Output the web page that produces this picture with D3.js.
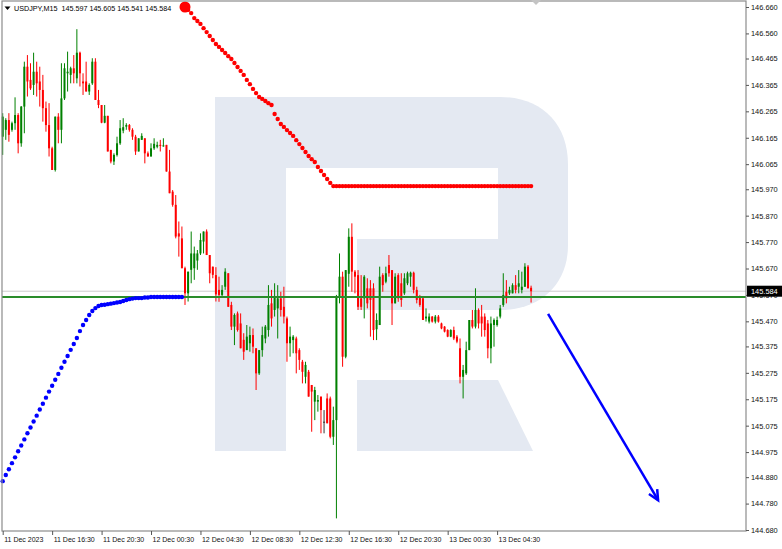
<!DOCTYPE html>
<html><head><meta charset="utf-8">
<script src="https://cdn.jsdelivr.net/npm/d3@7"></script>
<style>html,body{margin:0;padding:0;background:#fff;overflow:hidden}svg{display:block}</style>
</head><body><svg id="c" width="782" height="549"></svg>
<script>
// ---------------- DATA ----------------
const symbolTitle = "USDJPY,M15";
const headerValues = ["145.597", "145.605", "145.541", "145.584"];

const open = [
146.169,146.195,146.232,146.195,146.220,146.251,146.144,146.283,146.434,146.384,
146.365,146.415,146.378,146.346,146.277,146.213,146.125,146.043,146.245,146.195,
146.314,146.409,146.403,146.428,146.390,146.487,146.378,146.378,146.340,146.371,
146.453,146.308,146.289,146.222,146.248,146.119,146.075,146.100,146.144,146.192,
146.207,146.213,146.195,146.169,146.113,146.157,146.163,146.106,146.094,146.125,
146.131,146.138,146.134,146.138,146.037,145.961,145.911,145.803,145.784,145.671,
145.576,145.665,145.671,145.700,145.727,145.772,145.810,145.721,145.677,145.645,
145.589,145.570,145.601,145.652,145.532,145.450,145.500,145.462,145.400,145.361,
145.387,145.418,145.368,145.273,145.361,145.405,145.437,145.538,145.513,145.519,
145.557,145.525,145.481,145.387,145.399,145.405,145.361,145.317,145.260,145.279,
145.229,145.166,145.166,145.185,145.090,145.178,145.178,145.033,145.096,145.563,
145.639,145.336,145.650,145.790,145.658,145.645,145.557,145.557,145.595,145.595,
145.595,145.440,145.456,145.645,145.620,145.683,145.664,145.538,145.645,145.614,
145.576,145.614,145.639,145.654,145.589,145.563,145.557,145.481,145.469,145.488,
145.469,145.488,145.462,145.450,145.437,145.412,145.437,145.412,145.368,145.260,
145.273,145.361,145.475,145.450,145.513,145.488,145.488,145.462,145.368,145.456,
145.456,145.488,145.532,145.582,145.576,145.576,145.607,145.601,145.589,145.601,
145.677,145.597];
const high = [
146.258,146.239,146.258,146.226,146.318,146.258,146.285,146.453,146.478,146.447,
146.487,146.453,146.434,146.403,146.302,146.296,146.131,146.245,146.258,146.447,
146.447,146.491,146.434,146.478,146.576,146.491,146.409,146.453,146.371,146.466,
146.466,146.346,146.289,146.289,146.248,146.119,146.106,146.169,146.232,146.239,
146.220,146.217,146.201,146.176,146.163,146.182,146.163,146.113,146.144,146.163,
146.150,146.157,146.163,146.138,146.119,145.967,145.948,145.848,145.829,145.677,
145.658,145.810,145.753,145.740,145.803,145.810,145.818,145.721,145.677,145.675,
145.639,145.607,145.671,145.652,145.544,145.500,145.507,145.500,145.425,145.456,
145.450,145.443,145.368,145.361,145.450,145.456,145.607,145.589,145.614,145.607,
145.582,145.601,145.488,145.450,145.418,145.412,145.368,145.324,145.317,145.286,
145.229,145.222,145.191,145.185,145.134,145.197,145.185,145.147,145.570,145.727,
145.658,145.664,145.822,145.841,145.664,145.664,145.645,145.645,145.633,145.626,
145.614,145.500,145.677,145.652,145.677,145.721,145.664,145.652,145.652,145.652,
145.652,145.658,145.658,145.658,145.601,145.570,145.563,145.519,145.500,145.490,
145.494,145.494,145.465,145.452,145.440,145.440,145.450,145.418,145.405,145.305,
145.393,145.475,145.513,145.595,145.519,145.532,145.500,145.475,145.488,145.481,
145.488,145.532,145.652,145.626,145.601,145.614,145.645,145.664,145.658,145.690,
145.683,145.605];
const low = [
146.100,146.157,146.150,146.188,146.195,146.106,146.131,146.182,146.321,146.346,
146.327,146.321,146.283,146.226,146.188,146.094,146.043,146.037,146.144,146.144,
146.308,146.340,146.371,146.371,146.371,146.359,146.327,146.340,146.327,146.365,
146.308,146.277,146.220,146.220,146.113,146.068,146.062,146.094,146.138,146.182,
146.195,146.188,146.157,146.100,146.113,146.157,146.068,146.094,146.094,146.119,
146.125,146.113,146.131,146.037,145.955,145.904,145.784,145.715,145.671,145.532,
145.545,145.614,145.627,145.665,145.721,145.727,145.721,145.614,145.633,145.545,
145.544,145.563,145.589,145.525,145.437,145.380,145.431,145.368,145.324,145.361,
145.355,145.349,145.210,145.267,145.336,145.387,145.412,145.450,145.488,145.405,
145.488,145.462,145.317,145.336,145.349,145.273,145.286,145.235,145.235,145.185,
145.052,145.096,145.128,145.046,145.046,145.084,145.027,145.002,144.724,145.538,
145.298,145.330,145.601,145.582,145.576,145.513,145.513,145.481,145.519,145.412,
145.399,145.399,145.456,145.582,145.614,145.639,145.456,145.538,145.544,145.525,
145.570,145.607,145.601,145.576,145.538,145.525,145.475,145.469,145.462,145.465,
145.462,145.465,145.440,145.428,145.410,145.410,145.399,145.387,145.235,145.178,
145.267,145.361,145.443,145.443,145.443,145.412,145.412,145.330,145.311,145.374,
145.450,145.481,145.525,145.538,145.570,145.576,145.576,145.576,145.576,145.601,
145.595,145.541];
const close = [
146.245,146.232,146.176,146.220,146.251,146.144,146.283,146.434,146.378,146.352,
146.415,146.371,146.346,146.277,146.213,146.125,146.043,146.245,146.195,146.314,
146.428,146.415,146.428,146.409,146.487,146.409,146.371,146.340,146.365,146.453,
146.308,146.289,146.222,146.248,146.113,146.075,146.100,146.144,146.201,146.205,
146.213,146.195,146.169,146.113,146.163,146.172,146.106,146.094,146.125,146.142,
146.138,146.134,146.136,146.037,145.955,145.911,145.791,145.791,145.671,145.576,
145.658,145.727,145.727,145.727,145.778,145.810,145.721,145.652,145.646,145.572,
145.570,145.589,145.658,145.525,145.450,145.494,145.437,145.368,145.355,145.412,
145.418,145.374,145.273,145.361,145.418,145.450,145.532,145.481,145.563,145.557,
145.513,145.488,145.387,145.412,145.412,145.349,145.324,145.279,145.305,145.185,
145.204,145.210,145.172,145.134,145.090,145.084,145.033,145.096,145.563,145.639,
145.336,145.664,145.790,145.658,145.639,145.525,145.525,145.639,145.538,145.551,
145.437,145.475,145.639,145.607,145.652,145.652,145.538,145.639,145.557,145.551,
145.633,145.652,145.654,145.589,145.551,145.532,145.475,145.488,145.488,145.469,
145.488,145.469,145.443,145.431,145.412,145.437,145.405,145.393,145.260,145.286,
145.361,145.475,145.450,145.513,145.462,145.462,145.437,145.368,145.462,145.475,
145.475,145.519,145.570,145.557,145.589,145.607,145.589,145.614,145.601,145.677,
145.595,145.584];

// blue dotted indicator, one value per bar starting at bar 0
const blueStartBar = 0;
const blueTrail = [
144.865,144.888,144.910,144.933,144.955,144.978,145.000,145.023,145.046,145.068,
145.091,145.113,145.136,145.158,145.181,145.204,145.226,145.249,145.271,145.294,
145.317,145.339,145.362,145.384,145.407,145.433,145.456,145.475,145.494,145.509,
145.520,145.528,145.532,145.533,145.535,145.537,145.539,145.541,145.543,145.547,
145.551,145.554,145.556,145.558,145.558,145.558,145.560,145.560,145.562,145.562,
145.562,145.562,145.562,145.562,145.562,145.562,145.562,145.562,145.562];

// red dotted indicator, one value per bar starting at bar 59
const redStartBar = 59;
const redTrail = [
146.660,146.649,146.637,146.618,146.607,146.596,146.580,146.565,146.550,146.535,
146.520,146.509,146.497,146.486,146.474,146.463,146.448,146.433,146.418,146.403,
146.384,146.368,146.350,146.334,146.319,146.312,146.304,146.296,146.289,146.255,
146.236,146.217,146.206,146.194,146.183,146.172,146.156,146.141,146.126,146.111,
146.096,146.084,146.073,146.054,146.039,146.024,146.009,145.994,145.982,145.982,
145.982,145.982,145.982,145.982,145.982,145.982,145.982,145.982,145.982,145.982,
145.982,145.982,145.982,145.982,145.982,145.982,145.982,145.982,145.982,145.982,
145.982,145.982,145.982,145.982,145.982,145.982,145.982,145.982,145.982,145.982,
145.982,145.982,145.982,145.982,145.982,145.982,145.982,145.982,145.982,145.982,
145.982,145.982,145.982,145.982,145.982,145.982,145.982,145.982,145.982,145.982,
145.982,145.982,145.982,145.982,145.982,145.982,145.982,145.982,145.982,145.982,
145.982,145.982,145.982];

const supportLevel = 145.562;
const bidPrice = 145.584;
const priceTicks = [146.660,146.560,146.465,146.365,146.265,146.165,146.065,145.970,145.870,
  145.770,145.670,145.570,145.470,145.375,145.275,145.175,145.075,144.975,144.880,144.780,144.680];
const timeTickBars = [0,16,32,48,64,80,96,112,128,144,160];
const timeTickLabels = ["11 Dec 2023","11 Dec 16:30","11 Dec 20:30","12 Dec 00:30","12 Dec 04:30",
  "12 Dec 08:30","12 Dec 12:30","12 Dec 16:30","12 Dec 20:30","13 Dec 00:30","13 Dec 04:30"];
const forecastArrow = [{bar: 176.5, price: 145.498}, {bar: 212.1, price: 144.793}];

// ---------------- CHART ----------------
const svg = d3.select("#c");
const W = 782, H = 549;
const plot = {left: 2, right: 746, top: 1, bottom: 531};
const x = d3.scaleLinear().domain([0, 160]).range([2.7, 497.1]);
const y = d3.scaleLinear().domain([144.680, 146.660]).range([530, 7]);
const FONT = "'Liberation Sans', Arial, sans-serif";

svg.append("rect").attr("width", W).attr("height", H).attr("fill", "#fff");

// watermark logo
const logo = svg.append("g").attr("fill", "#e4e9f2");
logo.append("rect").attr("x", 215).attr("y", 97).attr("width", 71).attr("height", 354);
logo.append("rect").attr("x", 285).attr("y", 97).attr("width", 214).attr("height", 71);
logo.append("path").attr("d", "M498,97 H500 C540,97 568,122 568,165 V245 C568,285 540,310 500,310 H498 Z");
logo.append("rect").attr("x", 357).attr("y", 239).attr("width", 142).attr("height", 71);
logo.append("path").attr("d", "M357,380 H498 L533,451 H357 Z");

const data = open.map((o, i) => ({i, o, h: high[i], l: low[i], c: close[i]}));

// bid line
svg.append("line").attr("x1", plot.left).attr("x2", plot.right)
  .attr("y1", y(bidPrice)).attr("y2", y(bidPrice))
  .attr("stroke", "#cccccc").attr("stroke-width", 1);

// candles
const cg = svg.append("g");
const col = d => d.c > d.o ? "#008000" : (d.c < d.o ? "#ff0000" : "#333333");
cg.selectAll("line.w").data(data).join("line")
  .attr("x1", d => x(d.i)).attr("x2", d => x(d.i))
  .attr("y1", d => y(d.h)).attr("y2", d => y(d.l))
  .attr("stroke", col).attr("stroke-width", 1);
cg.selectAll("rect.b").data(data).join("rect")
  .attr("x", d => x(d.i) - 1).attr("width", 2)
  .attr("y", d => Math.min(y(d.o), y(d.c)))
  .attr("height", d => Math.max(1, Math.abs(y(d.o) - y(d.c))))
  .attr("fill", col);

// support line
svg.append("line").attr("x1", plot.left).attr("x2", plot.right)
  .attr("y1", y(supportLevel)).attr("y2", y(supportLevel))
  .attr("stroke", "#2a8c2a").attr("stroke-width", 2);

// blue dots
svg.append("g").selectAll("circle").data(blueTrail).join("circle")
  .attr("cx", (v, k) => x(blueStartBar + k)).attr("cy", v => y(v))
  .attr("r", 2.2).attr("fill", "#0000ff");

// red dots
svg.append("g").selectAll("circle").data(redTrail).join("circle")
  .attr("cx", (v, k) => x(redStartBar + k)).attr("cy", v => y(v))
  .attr("r", (v, k) => k === 0 ? 5.5 : 2.2).attr("fill", "#ff0000");

// forecast arrow
const a0 = forecastArrow[0], a1 = forecastArrow[1];
const ax0 = x(a0.bar), ay0 = y(a0.price), ax1 = x(a1.bar), ay1 = y(a1.price);
svg.append("line").attr("x1", ax0).attr("y1", ay0).attr("x2", ax1).attr("y2", ay1)
  .attr("stroke", "#0000ff").attr("stroke-width", 2.5);
const ang = Math.atan2(ay1 - ay0, ax1 - ax0);
const hl = 11, hw = 0.45;
svg.append("path")
  .attr("d", `M${ax1 - hl * Math.cos(ang - hw)},${ay1 - hl * Math.sin(ang - hw)} L${ax1},${ay1} L${ax1 - hl * Math.cos(ang + hw)},${ay1 - hl * Math.sin(ang + hw)}`)
  .attr("fill", "none").attr("stroke", "#0000ff").attr("stroke-width", 2.5);

// frame
svg.append("rect").attr("x", plot.left).attr("y", plot.top)
  .attr("width", plot.right - plot.left).attr("height", plot.bottom - plot.top)
  .attr("fill", "none").attr("stroke", "#8c8c8c").attr("stroke-width", 1.2);
// shift marker
svg.append("path").attr("d", "M531,0 L541,0 L536,5 Z").attr("fill", "#c4c4c4");

// right price axis
const ya = svg.append("g").attr("transform", `translate(${plot.right},0)`)
  .call(d3.axisRight(y).tickValues(priceTicks).tickFormat(d3.format(".3f")).tickSize(3).tickPadding(2));
ya.select(".domain").remove();
ya.selectAll("line").attr("stroke", "#555");
ya.selectAll("text").attr("font-family", FONT).attr("font-size", "7.4px").attr("fill", "#111");

// bottom time axis
const xa = svg.append("g").attr("transform", `translate(0,${plot.bottom})`)
  .call(d3.axisBottom(x).tickValues(timeTickBars).tickFormat((d, k) => timeTickLabels[k]).tickSize(4).tickPadding(2.3));
xa.select(".domain").remove();
xa.selectAll("line").attr("stroke", "#555");
xa.selectAll("text").attr("font-family", FONT).attr("font-size", "7px").attr("fill", "#111")
  .attr("text-anchor", "start").attr("x", 1);

// current price box (covers the 145.570 label, as in the terminal)
const by = y(bidPrice);
svg.append("rect").attr("x", plot.right + 1).attr("y", by - 5.5).attr("width", W - plot.right - 1).attr("height", 11).attr("fill", "#000");
svg.append("text").attr("x", 751).attr("y", by).attr("dy", "0.33em")
  .attr("font-family", FONT).attr("font-size", "7.4px").attr("fill", "#fff").text(bidPrice.toFixed(3));

// header
svg.append("path").attr("d", "M4.5,6.5 L10.5,6.5 L7.5,10 Z").attr("fill", "#000");
svg.append("text").attr("x", 14).attr("y", 10.5)
  .attr("font-family", FONT).attr("font-size", "7.2px").attr("fill", "#000")
  .attr("xml:space", "preserve")
  .text(symbolTitle + "  " + headerValues.join(" "));
</script></body></html>
